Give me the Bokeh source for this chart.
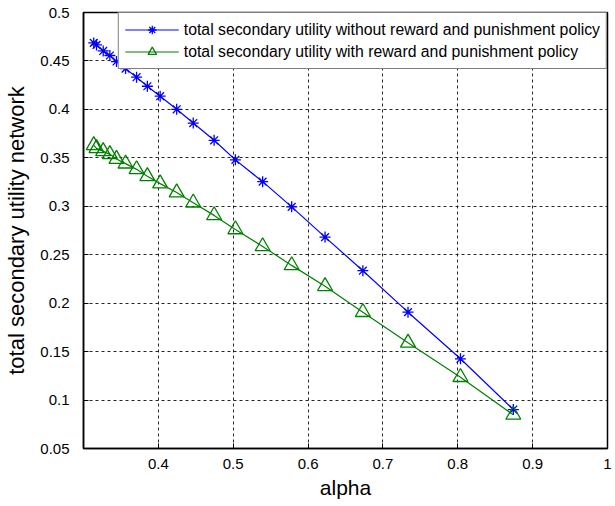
from bokeh.plotting import figure
from bokeh.models import Range1d, FixedTicker, Legend, LegendItem
from bokeh.embed import file_html
from bokeh.resources import INLINE

# ---- data ----
alpha = [0.3137, 0.3174, 0.3263, 0.3352, 0.3441, 0.3562, 0.3709, 0.3853, 0.4024, 0.4245,
         0.4466, 0.4745, 0.5029, 0.5393, 0.5781, 0.6227, 0.6732, 0.7335, 0.8036, 0.8742]
without_policy = [0.4686, 0.4665, 0.4603, 0.4556, 0.4494, 0.4421, 0.4332, 0.4239, 0.4136, 0.4001,
                  0.3859, 0.3681, 0.3479, 0.3254, 0.2994, 0.2682, 0.2335, 0.1907, 0.1426, 0.0902]
with_policy = [0.3629, 0.3598, 0.3567, 0.3536, 0.3488, 0.3440, 0.3381, 0.3309, 0.3234, 0.3142,
               0.3037, 0.2906, 0.2761, 0.2586, 0.2390, 0.2175, 0.1907, 0.1591, 0.1236, 0.0847]

x_ticks = [0.4, 0.5, 0.6, 0.7, 0.8, 0.9, 1.0]
x_tick_labels = ["0.4", "0.5", "0.6", "0.7", "0.8", "0.9", "1"]
y_ticks = [0.05, 0.1, 0.15, 0.2, 0.25, 0.3, 0.35, 0.4, 0.45, 0.5]
y_tick_labels = ["0.05", "0.1", "0.15", "0.2", "0.25", "0.3", "0.35", "0.4", "0.45", "0.5"]

label_without = "total secondary utility without reward and punishment policy"
label_with = "total secondary utility with reward and punishment policy"

FONT = "Liberation Sans"
BLUE = "#0000ff"
GREEN = "#008000"

p = figure(width=615, height=506, output_backend="svg", toolbar_location=None,
           x_range=Range1d(0.3, 1.0), y_range=Range1d(0.05, 0.5),
           min_border_left=83, min_border_right=8, min_border_top=12, min_border_bottom=58)
p.background_fill_color = "white"
p.border_fill_color = "white"
p.outline_line_color = "black"
p.outline_line_width = 1.5

# axes
for ax, ticks, labels in ((p.xaxis[0], x_ticks, x_tick_labels), (p.yaxis[0], y_ticks, y_tick_labels)):
    ax.ticker = FixedTicker(ticks=ticks)
    ax.major_label_overrides = {t: l for t, l in zip(ticks, labels)}
    ax.minor_tick_line_color = None
    ax.major_tick_in = 5
    ax.major_tick_out = 0
    ax.major_tick_line_color = "black"
    ax.axis_line_color = "black"
    ax.axis_line_width = 1.5
    ax.major_label_text_font = FONT
    ax.major_label_text_font_size = "15px"
    ax.major_label_text_color = "black"
    ax.axis_label_text_font = FONT
    ax.axis_label_text_font_size = "21px"
    ax.axis_label_text_font_style = "normal"
    ax.axis_label_text_color = "black"

p.xaxis.axis_label = "alpha"
p.yaxis.axis_label = "total secondary utility network"
p.yaxis.axis_label_text_font_size = "22px"
p.xaxis.major_label_standoff = 10
p.xaxis.axis_label_standoff = 4
p.yaxis.major_label_standoff = 14
p.yaxis.axis_label_standoff = 8

# grid
for g in (p.xgrid[0], p.ygrid[0]):
    g.grid_line_color = "black"
    g.grid_line_alpha = 0.85
    g.grid_line_dash = "3 3"
    g.grid_line_width = 1
p.xgrid.ticker = FixedTicker(ticks=x_ticks)
p.ygrid.ticker = FixedTicker(ticks=y_ticks)

# series
l1 = p.line(alpha, without_policy, line_color=BLUE, line_width=1.2)
m1 = p.scatter(alpha, without_policy, marker="asterisk", size=11, line_color=BLUE, line_width=1.3)
l2 = p.line(alpha, with_policy, line_color=GREEN, line_width=1.2)
m2 = p.scatter(alpha, with_policy, marker="triangle", size=15, line_color=GREEN,
               fill_color=None, line_width=1.3)

legend = Legend(items=[LegendItem(label=label_without, renderers=[l1, m1]),
                       LegendItem(label=label_with, renderers=[l2, m2])],
                location="top_right", margin=0, padding=6, spacing=1,
                glyph_width=54, glyph_height=21, label_height=21, label_standoff=5,
                label_text_font=FONT, label_text_font_size="15.8px", label_text_color="black",
                border_line_color="black", border_line_width=1.5,
                background_fill_color="white", background_fill_alpha=1.0)
p.add_layout(legend)

open("out.html", "w").write(file_html(p, INLINE))
